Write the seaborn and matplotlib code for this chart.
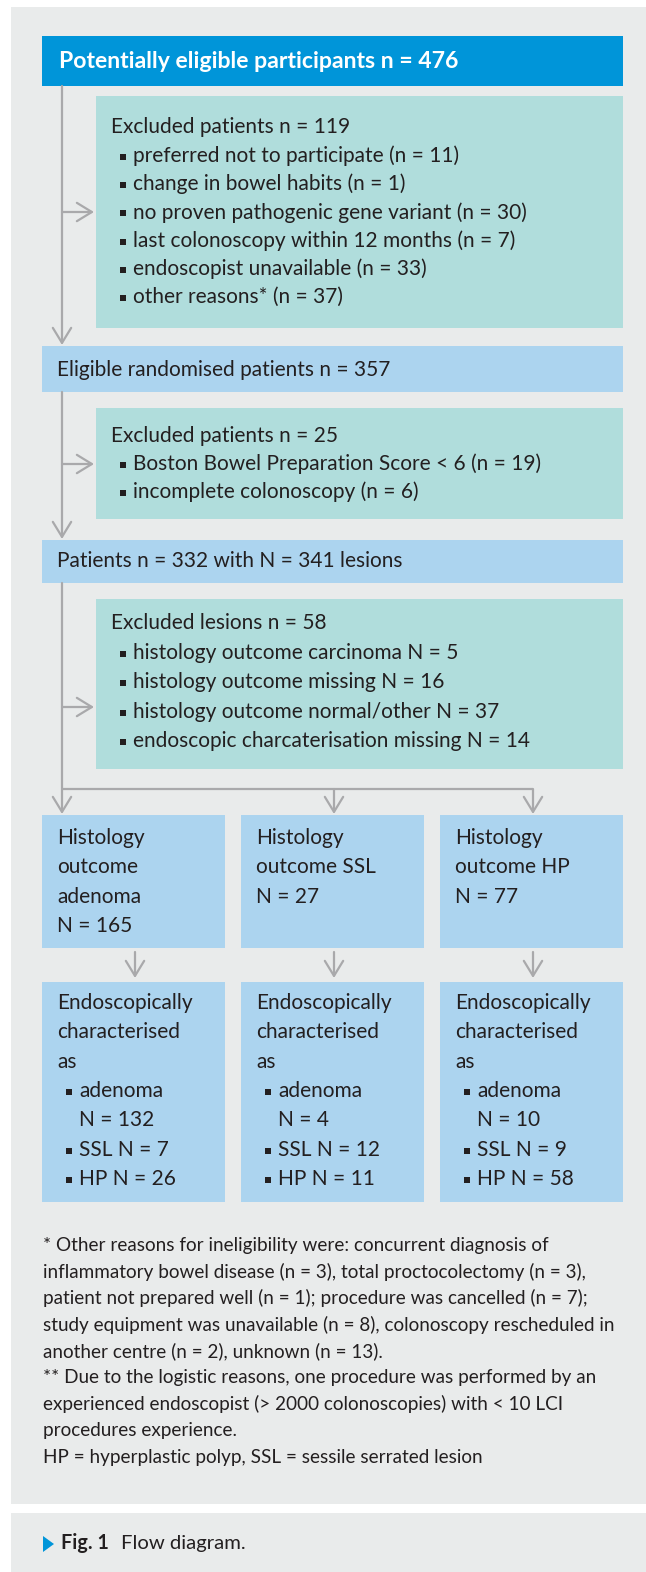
import matplotlib.pyplot as plt
import seaborn as sns
from matplotlib.patches import Rectangle, Polygon

# Data
n_potential = 476
excl1_n = 119
excl1_reasons = ["preferred not to participate", "change in bowel habits",
                 "no proven pathogenic gene variant", "last colonoscopy within 12 months",
                 "endoscopist unavailable", "other reasons*"]
excl1_counts = [11, 1, 30, 7, 33, 37]
n_eligible = 357
excl2_n = 25
excl2_reasons = ["Boston Bowel Preparation Score < 6", "incomplete colonoscopy"]
excl2_counts = [19, 6]
n_patients = 332
n_lesions = 341
excl3_n = 58
excl3_reasons = ["histology outcome carcinoma", "histology outcome missing",
                 "histology outcome normal/other", "endoscopic charcaterisation missing"]
excl3_counts = [5, 16, 37, 14]
histology = ["adenoma", "SSL", "HP"]
histology_n = [165, 27, 77]
endo_adenoma = [132, 4, 10]
endo_ssl = [7, 12, 9]
endo_hp = [26, 11, 58]
footnotes = [
    "* Other reasons for ineligibility were: concurrent diagnosis of",
    "inflammatory bowel disease (n = 3), total proctocolectomy (n = 3),",
    "patient not prepared well (n = 1); procedure was cancelled (n = 7);",
    "study equipment was unavailable (n = 8), colonoscopy rescheduled in",
    "another centre (n = 2), unknown (n = 13).",
    "** Due to the logistic reasons, one procedure was performed by an",
    "experienced endoscopist (> 2000 colonoscopies) with < 10 LCI",
    "procedures experience.",
    "HP = hyperplastic polyp, SSL = sessile serrated lesion",
]

# Colours
PANEL = '#e9ebeb'
DARKBLUE = '#0095d9'
LIGHTBLUE = '#acd4ef'
TEAL = '#b0dddc'
GRAY = '#a9a9ab'
TXT = '#231f20'

sns.set_theme(style="white")
plt.rcParams['font.family'] = ['Lato', 'DejaVu Sans']

W, H = 646, 1572
fig = plt.figure(figsize=(W / 100, H / 100), dpi=100)
ax = fig.add_axes([0, 0, 1, 1])
ax.set_xlim(0, W)
ax.set_ylim(H, 0)
ax.axis('off')

FS = 15.0
FS_SMALL = 13.6


def box(x0, y0, x1, y1, color):
    ax.add_patch(Rectangle((x0, y0), x1 - x0, y1 - y0, facecolor=color, edgecolor='none'))


def txt(x, y, s, size=FS, **kw):
    ax.text(x, y, s, fontsize=size, color=kw.pop('color', TXT), va='center', ha='left', **kw)


def bullet(x, y, s, size=FS):
    ax.add_patch(Rectangle((x, y - 2), 6, 6, facecolor=TXT, edgecolor='none'))
    txt(x + 13, y, s, size)


def arrow(x0, y0, x1, y1):
    ax.annotate('', xy=(x1, y1), xytext=(x0, y0),
                arrowprops=dict(arrowstyle='->,head_length=0.9,head_width=0.55',
                                color=GRAY, lw=1.6, shrinkA=0, shrinkB=0))


def line(xs, ys):
    ax.plot(xs, ys, color=GRAY, lw=1.6, solid_capstyle='butt')


# Panels
box(11, 7, W, 1504, PANEL)
box(11, 1513, W, H, PANEL)

# Main flow line
MX = 62
arrow(MX, 86, MX, 345)
arrow(MX, 392, MX, 539)
arrow(MX, 583, MX, 814)
for y in [212, 464, 707]:
    arrow(MX, y, 94, y)

# Top box
box(42, 36, 623, 86, DARKBLUE)
txt(59, 61, f"Potentially eligible participants n = {n_potential}", size=16.6,
    color='white', weight='bold')

# Excluded patients 1
box(96, 96, 623, 328, TEAL)
txt(111, 127, f"Excluded patients n = {excl1_n}")
for i, (r, c) in enumerate(zip(excl1_reasons, excl1_counts)):
    bullet(120, 156 + i * 28.2, f"{r} (n = {c})")

# Eligible
box(42, 346, 623, 392, LIGHTBLUE)
txt(57, 370, f"Eligible randomised patients n = {n_eligible}")

# Excluded patients 2
box(96, 408, 623, 519, TEAL)
txt(111, 436, f"Excluded patients n = {excl2_n}")
for i, (r, c) in enumerate(zip(excl2_reasons, excl2_counts)):
    bullet(120, 464 + i * 28.2, f"{r} (n = {c})")

# Patients
box(42, 540, 623, 583, LIGHTBLUE)
txt(57, 561, f"Patients n = {n_patients} with N = {n_lesions} lesions")

# Excluded lesions
box(96, 599, 623, 769, TEAL)
txt(111, 623, f"Excluded lesions n = {excl3_n}")
for i, (r, c) in enumerate(zip(excl3_reasons, excl3_counts)):
    bullet(120, 653 + i * 29.3, f"{r} N = {c}")

# Branch
col_x0 = [42, 241, 440]
col_w = 183
line([MX, col_x0[2] + 93], [789, 789])
for x0 in col_x0[1:]:
    arrow(x0 + 93, 789, x0 + 93, 814)

# Histology and endoscopy boxes
for i, x0 in enumerate(col_x0):
    box(x0, 815, x0 + col_w, 948, LIGHTBLUE)
    if histology[i] == "adenoma":
        lines = ["Histology", "outcome", histology[i], f"N = {histology_n[i]}"]
    else:
        lines = ["Histology", f"outcome {histology[i]}", f"N = {histology_n[i]}"]
    for j, s in enumerate(lines):
        txt(x0 + 15, 838 + j * 29.3, s)
    cx = x0 + 93
    arrow(cx, 952, cx, 978)
    box(x0, 982, x0 + col_w, 1202, LIGHTBLUE)
    head = ["Endoscopically", "characterised", "as"]
    for j, s in enumerate(head):
        txt(x0 + 15, 1003 + j * 29.3, s)
    y = 1003 + 3 * 29.3
    bullet(x0 + 24, y, "adenoma")
    txt(x0 + 37, y + 29.3, f"N = {endo_adenoma[i]}")
    bullet(x0 + 24, y + 2 * 29.3, f"SSL N = {endo_ssl[i]}")
    bullet(x0 + 24, y + 3 * 29.3, f"HP N = {endo_hp[i]}")

# Footnotes
for i, s in enumerate(footnotes):
    txt(43, 1245 + i * 26.5, s, size=FS_SMALL)

# Caption
ax.add_patch(Polygon([[43, 1536], [43, 1552], [54, 1544]], closed=True,
                     facecolor=DARKBLUE, edgecolor='none'))
txt(61, 1543, "Fig. 1", size=14.2, weight='bold')
txt(121, 1543, "Flow diagram.", size=14.6)

fig.savefig('out.png', dpi=100, facecolor='white')
